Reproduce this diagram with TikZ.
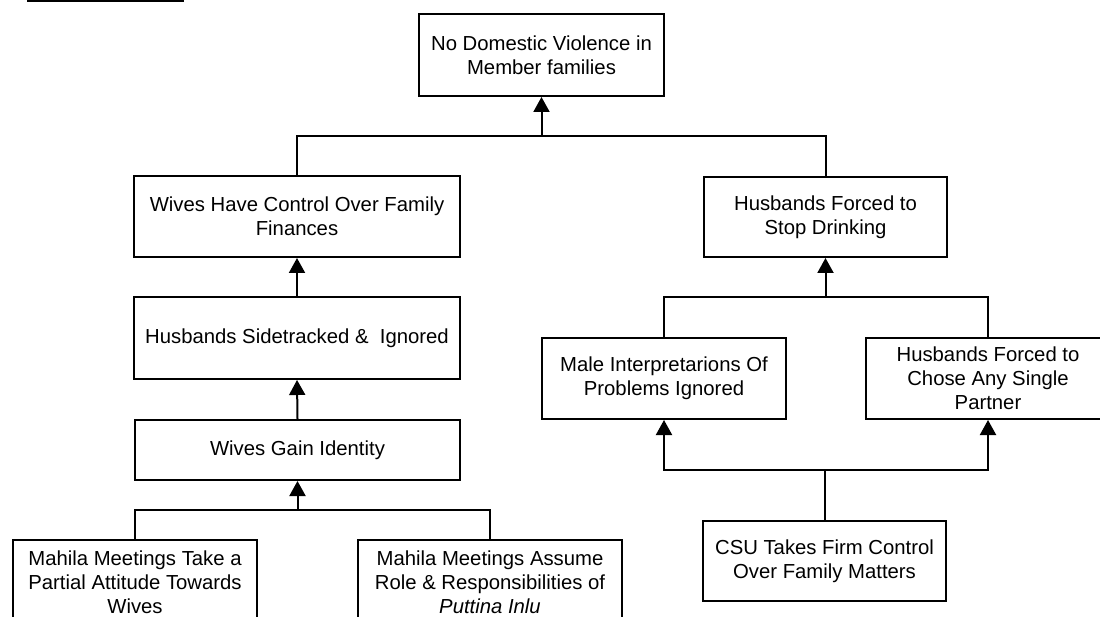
\documentclass[tikz,border=0pt]{standalone}
\usepackage{fontspec}
\setmainfont{Liberation Sans}
\usetikzlibrary{arrows.meta,positioning}
\tikzset{
  obox/.style={draw, line width=2pt, align=center, inner sep=2pt,
               font=\fontsize{20.3}{24}\selectfont},
  ln/.style={line width=2pt},
  uparr/.style={-{Triangle[length=15pt,width=16pt]}, line width=2pt},
}

\begin{document}
\begin{tikzpicture}[x=1pt, y=-1pt]
  \useasboundingbox (0,0) rectangle (1100,617);
  \clip (0,0) rectangle (1100,617);
  \draw[ln] (27,1) -- (184,1);
  % goal
  \node[obox, minimum width=245pt, minimum height=82pt] (goal) at (541.5,55)
    {No Domestic Violence in\\Member families};
  % left branch
  \node[obox, minimum width=326pt, minimum height=81pt] (wfin) at (297,216.5)
    {Wives Have Control Over Family\\Finances};
  \node[obox, minimum width=326pt, minimum height=82pt] (hside) at (297,338)
    {Husbands Sidetracked \&\ \ Ignored};
  \node[obox, minimum width=325pt, minimum height=60pt] (wgain) at (297.5,450)
    {Wives Gain Identity};
  \node[obox, minimum width=244pt, minimum height=84pt] (mahA) at (135,582)
    {Mahila Meetings Take a\\Partial Attitude Towards\\Wives};
  \node[obox, minimum width=264pt, minimum height=84pt] (mahB) at (490,582)
    {Mahila Meetings Assume\\Role \& Responsibilities of\\\textit{Puttina Inlu}};
  % right branch
  \node[obox, minimum width=243pt, minimum height=80pt] (hdrink) at (825.5,217)
    {Husbands Forced to\\Stop Drinking};
  \node[obox, minimum width=244pt, minimum height=81pt] (male) at (664,378.5)
    {Male Interpretarions Of\\Problems Ignored};
  \node[obox, minimum width=244pt, minimum height=81pt] (chose) at (988,378.5)
    {Husbands Forced to\\Chose Any Single\\Partner};
  \node[obox, minimum width=243pt, minimum height=80pt] (csu) at (824.5,561)
    {CSU Takes Firm Control\\Over Family Matters};
  % joints
  \coordinate (jtop) at (541.5,136);
  \coordinate (jmah) at (297.5,510);
  \coordinate (jdrk) at (825.5,297);
  \coordinate (jcsu) at (824.5,470);
  % connectors
  \draw[ln] (wfin.north) |- (jtop) -| (hdrink.north);
  \draw[uparr] (jtop) -- (goal.south);
  \draw[uparr] (hside.north) -- (wfin.south);
  \draw[uparr] (wgain.north) -- (hside.south);
  \draw[ln] (mahA.north) |- (jmah) -| (mahB.north);
  \draw[uparr] (jmah) -- (wgain.south);
  \draw[ln] (male.north) |- (jdrk) -| (chose.north);
  \draw[uparr] (jdrk) -- (hdrink.south);
  \draw[ln] (csu.north) -- (jcsu);
  \draw[uparr] (jcsu) -| (male.south);
  \draw[uparr] (jcsu) -| (chose.south);
\end{tikzpicture}
\end{document}
